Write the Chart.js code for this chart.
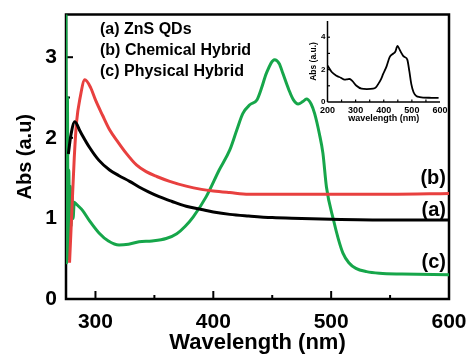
<!DOCTYPE html>
<html>
<head>
<meta charset="utf-8">
<script src="https://cdn.jsdelivr.net/npm/chart.js@4"></script>
<style>
  body { margin: 0; background: #fff; }
  #wrap { position: relative; width: 469px; height: 354px; }
  #main { position: absolute; left: 0; top: 0; }
  #inset { position: absolute; left: 300px; top: 12px; }
</style>
</head>
<body>
<div id="wrap">
  <canvas id="main" width="469" height="354"></canvas>
  <canvas id="inset" width="150" height="116"></canvas>
</div>
<script>
// (a) ZnS QDs
const znsX = [277, 279, 282.5, 287, 295, 303, 312, 320, 329, 337, 345, 354, 365, 377, 390, 400, 414, 430, 450, 475, 500, 550, 600];
const znsY = [1.8, 2.02, 2.2, 2.08, 1.88, 1.72, 1.6, 1.53, 1.46, 1.39, 1.33, 1.27, 1.21, 1.15, 1.11, 1.08, 1.05, 1.03, 1.01, 1.0, 0.99, 0.98, 0.98];

// (b) Chemical Hybrid
const chemX = [278, 280, 282, 284, 287, 291, 296, 300, 306, 312, 319, 326, 335, 343, 352, 363, 377, 390, 400, 414, 430, 460, 500, 550, 600];
const chemY = [0.45, 1.1, 1.75, 2.2, 2.5, 2.72, 2.62, 2.47, 2.28, 2.1, 1.95, 1.81, 1.66, 1.58, 1.52, 1.46, 1.4, 1.36, 1.34, 1.32, 1.3, 1.3, 1.3, 1.3, 1.31];

// (c) Physical Hybrid
const physX = [275, 275.6, 276.2, 276.8, 277.4, 278, 278.6, 279.3, 280, 281, 282, 283.5, 285, 289, 295, 303, 311, 320, 328, 337, 348, 360, 369, 376, 383, 394, 405, 414, 420, 425, 431, 437, 441, 445, 452, 456, 459, 464, 468, 472, 476, 479, 483, 486, 490, 493, 496, 502, 506, 510, 515, 521, 530, 541, 560, 600];
const physY = [3.6, 0.45, 2.5, 0.5, 1.6, 0.7, 1.4, 0.9, 1.3, 1.0, 1.2, 1.18, 1.16, 1.1, 0.97, 0.82, 0.72, 0.67, 0.68, 0.71, 0.72, 0.75, 0.81, 0.9, 1.02, 1.27, 1.6, 1.85, 2.1, 2.3, 2.41, 2.47, 2.62, 2.8, 2.97, 2.92, 2.8, 2.6, 2.47, 2.42, 2.45, 2.48, 2.42, 2.3, 2.05, 1.81, 1.39, 0.98, 0.75, 0.57, 0.45, 0.38, 0.34, 0.32, 0.31, 0.3];

// inset spectrum
const insetX = [200, 215, 232, 247, 261, 270, 279, 288, 303, 321, 340, 362, 372, 380, 390, 398, 410, 421, 433, 441, 449, 456, 463, 469, 475, 484, 491, 498, 506, 516, 528, 540, 570, 595];
const insetY = [2.25, 1.85, 1.62, 1.5, 1.38, 1.4, 1.42, 1.3, 1.0, 0.82, 0.8, 0.82, 0.9, 1.1, 1.4, 1.73, 2.2, 2.77, 2.98, 3.1, 3.46, 3.25, 3.02, 2.85, 2.77, 2.6, 1.9, 1.1, 0.6, 0.37, 0.3, 0.27, 0.26, 0.25];

const xTicks = [300, 400, 500, 600];
const xMinor = [350, 450, 550];
const yTicks = [0, 1, 2, 3];
const yMinor = [0.5, 1.5, 2.5];
const insetXTicks = [200, 300, 400, 500, 600];
const insetYTicks = [0, 2, 4];

const legendLines = ['(a) ZnS QDs', '(b) Chemical Hybrid', '(c) Physical Hybrid'];
const curveTags = ['(b)', '(a)', '(c)'];

Chart.defaults.font.family = '"Liberation Sans", Arial, sans-serif';
Chart.defaults.font.weight = 'bold';
Chart.defaults.color = '#000';

const toPoints = (xs, ys) => xs.map((x, i) => ({x: x, y: ys[i]}));

const RED = '#e8403f';
const GREEN = '#16a64a';

function seg(ctx, x1, y1, x2, y2) {
    ctx.beginPath();
    ctx.moveTo(x1, y1);
    ctx.lineTo(x2, y2);
    ctx.stroke();
}

// keep the edge tick labels from pushing the plot area inwards
const fitX = h => s => { s.height = h; s.paddingLeft = 0; s.paddingRight = 0; };
const fitY = w => s => { s.width = w; s.paddingTop = 0; s.paddingBottom = 0; };

const mainFrame = {
    id: 'mainFrame',
    beforeDatasetsDraw(chart) {
        const ctx = chart.ctx;
        const a = chart.chartArea;
        const sx = chart.scales.x, sy = chart.scales.y;
        ctx.save();
        ctx.strokeStyle = '#000';
        ctx.lineWidth = 2.5;
        ctx.strokeRect(a.left, a.top, a.right - a.left, a.bottom - a.top);
        ctx.lineWidth = 2;
        xTicks.forEach(v => { const p = sx.getPixelForValue(v); seg(ctx, p, a.bottom, p, a.bottom - 8); });
        xMinor.forEach(v => { const p = sx.getPixelForValue(v); seg(ctx, p, a.bottom, p, a.bottom - 4); });
        yTicks.forEach(v => { const p = sy.getPixelForValue(v); seg(ctx, a.left, p, a.left + 7, p); });
        yMinor.forEach(v => { const p = sy.getPixelForValue(v); seg(ctx, a.left, p, a.left + 4, p); });
        ctx.restore();
    },
    afterDraw(chart) {
        const ctx = chart.ctx;
        ctx.save();
        ctx.fillStyle = '#000';
        ctx.textBaseline = 'middle';
        ctx.font = 'bold 16px "Liberation Sans", Arial, sans-serif';
        ctx.textAlign = 'left';
        legendLines.forEach((t, i) => ctx.fillText(t, 100, 30 + i * 21));
        ctx.font = 'bold 20px "Liberation Sans", Arial, sans-serif';
        ctx.textAlign = 'right';
        ctx.fillText(curveTags[0], 446, 178);
        ctx.fillText(curveTags[1], 446, 210);
        ctx.fillText(curveTags[2], 446, 262);
        ctx.restore();
    }
};

new Chart(document.getElementById('main'), {
    type: 'line',
    data: {
        datasets: [{
            label: '(a) ZnS QDs',
            data: toPoints(znsX, znsY),
            borderColor: '#000',
            borderWidth: 3,
            pointRadius: 0,
            cubicInterpolationMode: 'monotone'
        }, {
            label: '(b) Chemical Hybrid',
            data: toPoints(chemX, chemY),
            borderColor: RED,
            borderWidth: 3,
            pointRadius: 0,
            cubicInterpolationMode: 'monotone'
        }, {
            label: '(c) Physical Hybrid',
            data: toPoints(physX, physY),
            borderColor: GREEN,
            borderWidth: 3,
            pointRadius: 0,
            cubicInterpolationMode: 'monotone'
        }]
    },
    options: {
        responsive: false,
        animation: false,
        layout: { padding: { top: 14.5, right: 20, left: 0, bottom: 0 } },
        plugins: { legend: { display: false }, tooltip: { enabled: false } },
        scales: {
            x: {
                type: 'linear',
                min: 275,
                max: 600,
                afterBuildTicks: s => { s.ticks = xTicks.map(v => ({value: v})); },
                afterFit: fitX(55),
                grid: { display: false, tickLength: 0 },
                border: { display: false },
                ticks: { font: { size: 21, weight: 'bold' }, padding: 11, maxRotation: 0 },
                title: {
                    display: true,
                    text: 'Wavelength (nm)',
                    font: { size: 22, weight: 'bold', lineHeight: 1 },
                    padding: { top: 0, bottom: 0 }
                }
            },
            y: {
                min: 0,
                max: 3.53,
                afterBuildTicks: s => { s.ticks = yTicks.map(v => ({value: v})); },
                afterFit: fitY(66),
                grid: { display: false, tickLength: 0 },
                border: { display: false },
                ticks: { font: { size: 21, weight: 'bold' }, padding: 9 },
                title: {
                    display: true,
                    text: 'Abs (a.u)',
                    font: { size: 20, weight: 'bold', lineHeight: 1 },
                    padding: { top: 15, bottom: 0 }
                }
            }
        }
    },
    plugins: [mainFrame]
});

const insetFrame = {
    id: 'insetFrame',
    beforeDatasetsDraw(chart) {
        const ctx = chart.ctx;
        const a = chart.chartArea;
        const sx = chart.scales.x, sy = chart.scales.y;
        ctx.save();
        ctx.strokeStyle = '#000';
        ctx.lineWidth = 1.5;
        seg(ctx, a.left, a.top, a.left, a.bottom);
        seg(ctx, a.left, a.bottom, a.right, a.bottom);
        ctx.lineWidth = 1.2;
        for (let v = 250; v < 600; v += 50) {
            const p = sx.getPixelForValue(v);
            seg(ctx, p, a.bottom, p, a.bottom - 2.5);
        }
        for (let v = 1; v <= 4; v += 1) {
            const p = sy.getPixelForValue(v);
            seg(ctx, a.left, p, a.left + 2.5, p);
        }
        ctx.restore();
    }
};

new Chart(document.getElementById('inset'), {
    type: 'line',
    data: {
        datasets: [{
            data: toPoints(insetX, insetY),
            borderColor: '#000',
            borderWidth: 1.8,
            pointRadius: 0,
            cubicInterpolationMode: 'monotone'
        }]
    },
    options: {
        responsive: false,
        animation: false,
        layout: { padding: { top: 9, right: 10, left: 0, bottom: 0 } },
        plugins: { legend: { display: false }, tooltip: { enabled: false } },
        scales: {
            x: {
                type: 'linear',
                min: 200,
                max: 600,
                afterBuildTicks: s => { s.ticks = insetXTicks.map(v => ({value: v})); },
                afterFit: fitX(26),
                grid: { display: false, tickLength: 0 },
                border: { display: false },
                ticks: { font: { size: 9, weight: 'bold' }, padding: 3.5, maxRotation: 0, autoSkip: false },
                title: {
                    display: true,
                    text: 'wavelength (nm)',
                    font: { size: 9, weight: 'bold', lineHeight: 1 },
                    padding: { top: 0, bottom: 5 }
                }
            },
            y: {
                min: 0,
                max: 5,
                afterBuildTicks: s => { s.ticks = insetYTicks.map(v => ({value: v})); },
                afterFit: fitY(27.5),
                grid: { display: false, tickLength: 0 },
                border: { display: false },
                ticks: { font: { size: 8, weight: 'bold' }, padding: 2 },
                title: {
                    display: true,
                    text: 'Abs (a.u.)',
                    font: { size: 8.5, weight: 'bold', lineHeight: 1 },
                    padding: { top: 9, bottom: 0 }
                }
            }
        }
    },
    plugins: [insetFrame]
});
</script>
</body>
</html>
